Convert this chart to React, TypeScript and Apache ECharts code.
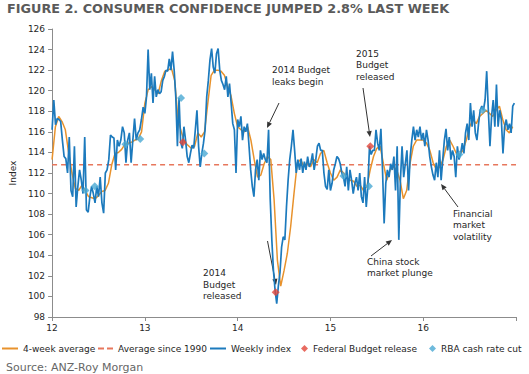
import { useEffect, useRef } from "react";
import * as echarts from "echarts";

// ---------- data ----------
const YEARS = [12, 13, 14, 15, 16];
const X_TICKS = [12, 13, 14, 15, 16];

const WEEKLY_2012 = [116.2, 119.1, 116.7, 117.3, 117.2, 117.0, 115.2, 113.6, 113.4, 112.0, 115.5, 110.3, 109.7, 114.6, 108.7, 110.7, 112.3, 111.3, 110.0, 115.5, 108.4, 108.2, 109.7, 110.7, 110.0, 109.1, 110.7, 109.7, 111.6, 109.1, 108.1, 112.0, 112.3, 113.3, 115.7, 115.5, 115.4, 112.3, 115.2, 114.6, 115.2, 116.5, 115.9, 113.0, 115.2, 115.9, 113.0, 115.2, 117.3, 115.2, 115.9, 116.2, 117.2, 118.4];
const WEEKLY_2013 = [117.8, 119.4, 124.0, 120.1, 121.7, 118.8, 121.4, 119.4, 120.1, 119.7, 119.9, 121.0, 121.4, 122.0, 121.9, 123.1, 122.0, 123.8, 122.0, 119.4, 114.6, 119.3, 115.0, 114.4, 116.5, 115.2, 113.6, 113.0, 113.9, 114.7, 114.4, 116.2, 118.1, 114.6, 112.6, 113.9, 114.9, 116.2, 119.4, 121.0, 123.0, 124.1, 122.3, 121.7, 123.6, 124.1, 122.0, 121.0, 120.6, 120.1, 121.4, 119.4, 120.7, 118.8, 116.8, 116.2, 112.0];
const WEEKLY_2014 = [117.2, 116.5, 117.5, 115.2, 116.5, 116.0, 116.8, 114.6, 112.3, 110.7, 109.7, 112.3, 113.3, 111.3, 114.2, 113.3, 113.9, 113.3, 113.0, 116.2, 109.5, 105.5, 102.5, 100.6, 99.3, 101.0, 102.3, 104.8, 105.8, 105.5, 108.7, 111.3, 113.3, 114.6, 116.2, 114.2, 112.0, 113.3, 112.3, 113.4, 112.0, 113.1, 112.3, 113.6, 112.6, 113.0, 113.9, 112.3, 113.3, 114.6, 114.9, 114.2, 114.2, 112.0, 110.7, 110.4, 112.3];
const WEEKLY_2015 = [110.3, 111.0, 112.3, 112.9, 113.6, 113.4, 112.9, 112.0, 111.6, 110.7, 112.6, 110.3, 112.3, 111.3, 110.0, 111.0, 111.6, 110.3, 112.0, 109.7, 109.1, 111.6, 108.7, 110.7, 114.6, 113.8, 114.2, 114.2, 116.2, 114.9, 114.2, 116.3, 112.3, 107.1, 111.0, 112.3, 111.6, 112.9, 112.3, 113.6, 110.3, 114.6, 105.5, 111.3, 114.6, 111.6, 112.9, 114.2, 110.3, 113.6, 115.2, 116.5, 115.2, 116.2, 115.5, 116.5, 115.2];
const WEEKLY_2016 = [115.9, 114.6, 116.2, 115.2, 113.6, 112.6, 111.8, 111.3, 113.0, 111.6, 114.2, 111.3, 113.3, 115.2, 116.3, 114.2, 115.5, 113.3, 114.2, 113.6, 111.6, 114.6, 113.3, 113.9, 114.9, 113.9, 115.9, 116.8, 115.2, 118.8, 116.5, 118.1, 115.9, 115.2, 116.8, 118.1, 118.5, 118.1, 119.1, 121.9, 118.1, 114.6, 117.5, 119.1, 116.5, 120.6, 116.5, 118.1, 117.2, 113.9, 116.5, 117.2, 116.2, 116.8, 115.9, 118.5, 118.8];

const AVG4_2012 = [113.3, 116.5, 117.5, 117.0, 116.2, 114.0, 112.0, 110.5, 110.3, 110.8, 110.3, 109.7, 109.6, 109.5, 109.8, 110.2, 110.3, 111.0, 112.8, 113.9, 114.0, 114.3, 114.8, 114.9, 115.0, 115.2, 115.3, 116.0];
const AVG4_2013 = [118.8, 120.1, 120.4, 120.1, 119.7, 121.0, 121.9, 122.0, 122.2, 121.0, 117.2, 116.0, 115.0, 114.7, 114.4, 114.6, 115.9, 115.5, 116.0, 118.8, 121.5, 122.0, 122.0, 121.9, 121.5, 120.4, 119.5, 117.8];
const AVG4_2014 = [116.5, 116.2, 116.0, 116.5, 115.2, 113.3, 111.6, 111.8, 112.9, 113.6, 113.3, 109.4, 103.5, 101.0, 102.5, 104.2, 106.8, 110.0, 113.0, 113.3, 112.6, 113.0, 112.6, 113.3, 113.0, 113.9, 114.2, 113.0];
const AVG4_2015 = [112.0, 111.3, 111.6, 112.3, 112.0, 111.5, 111.3, 111.2, 110.7, 110.8, 110.3, 110.7, 112.3, 113.6, 114.4, 114.6, 112.9, 111.3, 112.3, 112.6, 112.3, 111.3, 109.5, 110.3, 112.9, 114.6, 115.2, 115.2];
const AVG4_2016 = [115.2, 114.9, 114.2, 113.0, 112.3, 112.6, 113.3, 114.6, 115.2, 114.6, 113.9, 113.8, 114.2, 115.2, 116.5, 117.2, 116.8, 117.5, 117.8, 118.1, 117.8, 117.5, 118.1, 118.5, 117.2, 116.2, 115.9, 116.5];

const AVERAGE_SINCE_1990 = 112.8;

const BUDGET_RELEASES: [number, number][] = [[13.41, 115.0], [14.41, 100.4], [15.43, 114.6]];
const RBA_CUTS: [number, number][] = [[12.36, 110.3], [12.46, 110.7], [12.79, 114.8], [12.95, 115.3], [13.39, 119.3], [13.64, 113.9], [15.14, 111.7], [15.415, 110.7], [16.39, 113.8], [16.64, 118.1]];

const WEEKLY = [WEEKLY_2012, WEEKLY_2013, WEEKLY_2014, WEEKLY_2015, WEEKLY_2016];
const AVG4 = [AVG4_2012, AVG4_2013, AVG4_2014, AVG4_2015, AVG4_2016];

// ---------- styles ----------
const FONT = '"DejaVu Sans", Verdana, sans-serif';
const BLUE = "#1c7abd";
const ORANGE = "#e8922c";
const DASH = "#e7775c";
const RED = "#e2463a";
const LIGHT_BLUE = "#4aa9d3";
const AXIS = "#8c8c8c";
const TEXT = "#262626";

function toXY(arrs: number[][]): [number, number][] {
  return arrs.flatMap((arr, k) => arr.map((v, i) => [YEARS[k] + i / arr.length, v] as [number, number]));
}

function arrow(x1: number, y1: number, x2: number, y2: number) {
  const dx = x2 - x1;
  const dy = y2 - y1;
  const L = Math.hypot(dx, dy);
  const ux = dx / L;
  const uy = dy / L;
  const hl = 6;
  const hw = 2.6;
  const bx = x2 - ux * hl;
  const by = y2 - uy * hl;
  return [
    { type: "line", silent: true, shape: { x1, y1, x2: bx, y2: by }, style: { stroke: "#333", lineWidth: 1 } },
    {
      type: "polygon",
      silent: true,
      shape: { points: [[x2, y2], [bx - uy * hw, by + ux * hw], [bx + uy * hw, by - ux * hw]] },
      style: { fill: "#333" },
    },
  ];
}

function note(text: string, x: number, top: number, lh: number) {
  return {
    type: "text",
    silent: true,
    x,
    y: top,
    style: { text, fill: TEXT, fontSize: 9, fontFamily: FONT, lineHeight: lh, verticalAlign: "top", align: "left" },
  };
}

function legendItem(name: string, left: number, icon: string, w: number, h: number) {
  return {
    data: [{ name, icon }],
    left,
    top: 344,
    padding: 0,
    itemWidth: w,
    itemHeight: h,
    selectedMode: false,
    itemStyle: { borderWidth: 0 },
    textStyle: { fontSize: 9, color: TEXT, fontFamily: FONT },
  };
}

export default function App() {
  const ref = useRef<HTMLDivElement>(null);

  useEffect(() => {
    if (!ref.current) return;
    const chart = echarts.init(ref.current, undefined, { renderer: "svg" });
    const option = {
      animation: false,
      backgroundColor: "#ffffff",
      textStyle: { fontFamily: FONT },
      title: {
        text: "FIGURE 2. CONSUMER CONFIDENCE JUMPED 2.8% LAST WEEK",
        left: 7,
        top: 2,
        padding: 0,
        textStyle: { fontSize: 12.8, fontWeight: "bold", color: "#5a5a5a", fontFamily: FONT },
      },
      grid: { left: 45, top: 29, width: 471, height: 288, containLabel: false },
      xAxis: {
        type: "value",
        min: 12,
        max: 17,
        interval: 1,
        axisLine: { lineStyle: { color: AXIS } },
        axisTick: { length: 4, lineStyle: { color: AXIS } },
        splitLine: { show: false },
        axisLabel: {
          fontSize: 9,
          color: TEXT,
          margin: 6,
          fontFamily: FONT,
          formatter: (v: number) => (X_TICKS.includes(v) ? String(v) : ""),
        },
      },
      yAxis: {
        type: "value",
        min: 98,
        max: 126,
        interval: 2,
        name: "Index",
        nameLocation: "middle",
        nameGap: 30,
        nameRotate: 90,
        nameTextStyle: { fontSize: 9, color: TEXT, fontFamily: FONT },
        axisLine: { show: true, lineStyle: { color: AXIS } },
        axisTick: { show: true, length: 4, lineStyle: { color: AXIS } },
        splitLine: { show: false },
        axisLabel: { fontSize: 9, color: TEXT, margin: 7, fontFamily: FONT },
      },
      legend: [
        legendItem("4-week average", 2, "rect", 16, 2),
        legendItem("Average since 1990", 98, "path://M0,0h6v2h-6z M9,0h6v2h-6z", 15, 2),
        legendItem("Weekly index", 210, "rect", 16, 2),
        legendItem("Federal Budget release", 301, "diamond", 7, 7),
        legendItem("RBA cash rate cut", 429, "diamond", 7, 7),
      ],
      series: [
        {
          name: "Average since 1990",
          type: "line",
          data: [[12, AVERAGE_SINCE_1990], [17, AVERAGE_SINCE_1990]],
          showSymbol: false,
          lineStyle: { color: DASH, width: 1.5, type: [5, 4] },
          itemStyle: { color: DASH },
          z: 1,
        },
        {
          name: "4-week average",
          type: "line",
          data: toXY(AVG4),
          showSymbol: false,
          lineStyle: { color: ORANGE, width: 1.5 },
          itemStyle: { color: ORANGE },
          z: 2,
        },
        {
          name: "Weekly index",
          type: "line",
          data: toXY(WEEKLY),
          showSymbol: false,
          lineStyle: { color: BLUE, width: 1.7 },
          itemStyle: { color: BLUE },
          z: 3,
        },
        {
          name: "Federal Budget release",
          type: "scatter",
          symbol: "diamond",
          symbolSize: 8,
          data: BUDGET_RELEASES,
          itemStyle: { color: RED },
          z: 5,
        },
        {
          name: "RBA cash rate cut",
          type: "scatter",
          symbol: "diamond",
          symbolSize: 8,
          data: RBA_CUTS,
          itemStyle: { color: LIGHT_BLUE },
          z: 5,
        },
      ],
      graphic: [
        note("2014 Budget\nleaks begin", 272, 64, 11.7),
        ...arrow(279, 103, 267, 128),
        note("2015\nBudget\nreleased", 356, 48, 11.5),
        ...arrow(363, 88, 370, 137),
        note("2014\nBudget\nreleased", 203, 267.5, 11.5),
        ...arrow(267.5, 241, 276, 285),
        note("China stock\nmarket plunge", 367, 256, 11.6),
        ...arrow(371, 256, 392, 240),
        note("Financial\nmarket\nvolatility", 453, 208, 11.4),
        ...arrow(458, 207, 441, 184),
        {
          type: "text",
          silent: true,
          x: 6,
          y: 367,
          style: { text: "Source: ANZ-Roy Morgan", fill: "#666", fontSize: 11, fontFamily: FONT, verticalAlign: "middle" },
        },
      ],
    };
    chart.setOption(option as any);
    return () => chart.dispose();
  }, []);

  return (
    <div
      ref={ref}
      style={{ position: "fixed", left: 0, top: 0, width: 529, height: 374, background: "#fff" }}
    />
  );
}
